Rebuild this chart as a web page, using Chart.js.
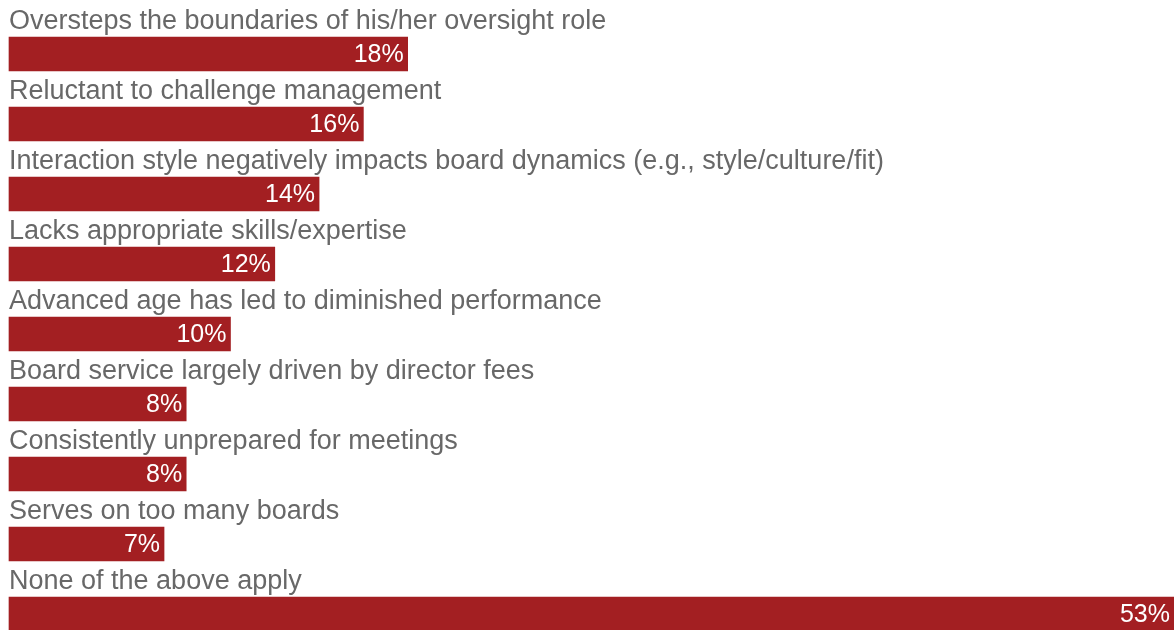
<!DOCTYPE html>
<html lang="en">

<head>
    <meta charset="UTF-8">
    <title>Director issues</title>
    <script src="https://cdn.jsdelivr.net/npm/chart.js"></script>
    <style>
        html, body {
            margin: 0;
            padding: 0;
            background: #ffffff;
        }

        .chart-box {
            width: 1174px;
            height: 630px;
            position: relative;
        }
    </style>
</head>

<body>

    <div class="chart-box">
        <canvas id="issuesChart"></canvas>
    </div>

    <script>
        const categories = [
            'Oversteps the boundaries of his/her oversight role',
            'Reluctant to challenge management',
            'Interaction style negatively impacts board dynamics (e.g., style/culture/fit)',
            'Lacks appropriate skills/expertise',
            'Advanced age has led to diminished performance',
            'Board service largely driven by director fees',
            'Consistently unprepared for meetings',
            'Serves on too many boards',
            'None of the above apply'
        ];
        const shares = [18, 16, 14, 12, 10, 8, 8, 7, 53];

        const BAR_RED = '#a31f22';
        const TEXT_GREY = '#686868';
        const FONT = '"Liberation Sans", Arial, Helvetica, sans-serif';

        // category names above each bar, percentages inside the bar end
        const barLabels = {
            id: 'barLabels',
            afterDatasetsDraw(chart) {
                const ctx = chart.ctx;
                const meta = chart.getDatasetMeta(0);
                const right = chart.chartArea.right;
                ctx.save();
                meta.data.forEach((bar, i) => {
                    const top = bar.y - bar.height / 2;

                    ctx.font = '27px ' + FONT;
                    ctx.fillStyle = TEXT_GREY;
                    ctx.textAlign = 'left';
                    ctx.textBaseline = 'alphabetic';
                    ctx.fillText(categories[i], bar.base, top - 8);

                    // the widest bar runs past the edge, keep its label visible
                    ctx.font = '25px ' + FONT;
                    ctx.fillStyle = '#ffffff';
                    ctx.textAlign = 'right';
                    ctx.textBaseline = 'middle';
                    ctx.fillText(shares[i] + '%', Math.min(bar.x, right) - 4, bar.y + 1);
                });
                ctx.restore();
            }
        };

        new Chart(document.getElementById('issuesChart'), {
            type: 'bar',
            data: {
                labels: categories,
                datasets: [{
                    data: shares,
                    backgroundColor: BAR_RED,
                    borderWidth: 0,
                    barThickness: 34,
                    clip: false
                }]
            },
            options: {
                indexAxis: 'y',
                responsive: true,
                maintainAspectRatio: false,
                animation: false,
                layout: {
                    padding: { top: 54, bottom: 16, left: 9, right: 0 }
                },
                scales: {
                    x: {
                        display: false,
                        min: 0,
                        max: 52.6
                    },
                    y: {
                        display: false,
                        offset: false
                    }
                },
                plugins: {
                    legend: { display: false },
                    tooltip: { enabled: false }
                }
            },
            plugins: [barLabels]
        });
    </script>

</body>

</html>
